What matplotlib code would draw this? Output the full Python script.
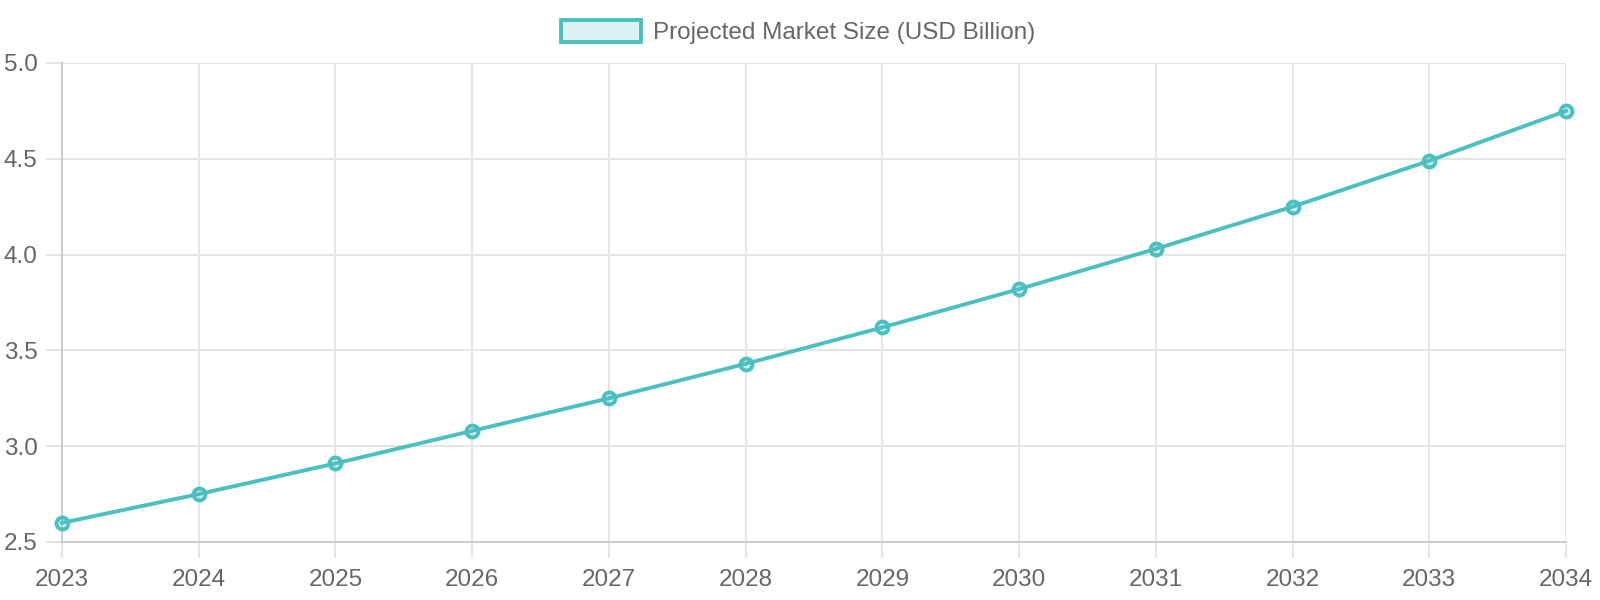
import matplotlib
matplotlib.use("Agg")
import matplotlib.pyplot as plt
from matplotlib.patches import Patch

years = [2023, 2024, 2025, 2026, 2027, 2028, 2029, 2030, 2031, 2032, 2033, 2034]
market_size = [2.60, 2.75, 2.91, 3.08, 3.25, 3.43, 3.62, 3.82, 4.03, 4.25, 4.49, 4.75]
y_ticks = [2.5, 3.0, 3.5, 4.0, 4.5, 5.0]
series_label = "Projected Market Size (USD Billion)"

line_color = "#4BC0C0"
fill_color = (75 / 255, 192 / 255, 192 / 255, 0.2)
text_color = "#666666"
grid_color = "#e4e4e4"

plt.rcParams["font.family"] = ["Liberation Sans", "DejaVu Sans"]

fig = plt.figure(figsize=(16, 6), dpi=100)
# plot area in pixels: x 62..1566, y 63..542
ax = fig.add_axes([62 / 1600, 58 / 600, 1504 / 1600, 479 / 600])

ax.plot(years, market_size, color=line_color, linewidth=2.8, marker="o",
        markersize=8.6, markeredgewidth=2.8, markeredgecolor=line_color,
        markerfacecolor=fill_color, clip_on=False, zorder=3)

ax.set_xlim(years[0], years[-1])
ax.set_ylim(y_ticks[0], y_ticks[-1])
ax.set_xticks(years)
ax.set_yticks(y_ticks)
ax.set_yticklabels([f"{v:.1f}" for v in y_ticks])

ax.grid(True, color=grid_color, linewidth=1.4)
ax.set_axisbelow(True)
for name, sp in ax.spines.items():
    if name in ("left", "bottom"):
        sp.set_color("#cccccc")
        sp.set_linewidth(1.4)
    else:
        sp.set_visible(False)

ax.tick_params(axis="both", colors=grid_color, length=11.5, width=1.4,
               labelcolor=text_color, labelsize=17.5)
ax.tick_params(axis="x", pad=8)
ax.tick_params(axis="y", pad=6)

handle = Patch(facecolor=fill_color, edgecolor=line_color, linewidth=2.8)
fig.legend([handle], [series_label], loc="center", bbox_to_anchor=(0.499, 1 - 32 / 600),
           frameon=False, handlelength=3.3, handleheight=1.0, handletextpad=0.5,
           fontsize=17.5, labelcolor=text_color, borderpad=0)

fig.savefig("out.png", dpi=100)
